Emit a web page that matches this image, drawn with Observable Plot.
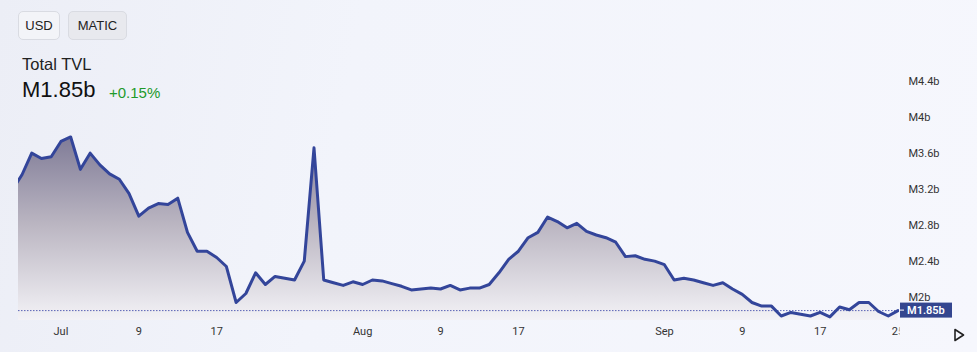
<!DOCTYPE html>
<html>
<head>
<meta charset="utf-8">
<script src="https://cdn.jsdelivr.net/npm/d3@7"></script>
<script src="https://cdn.jsdelivr.net/npm/@observablehq/plot@0.6"></script>
<style>
  html, body { margin: 0; padding: 0; }
  body { width: 977px; height: 352px; overflow: hidden; font-family: "Liberation Sans", Arial, sans-serif; }
  #wrap { position: relative; width: 977px; height: 352px;
    background: linear-gradient(100deg, #eceef6 0%, #f2f4fb 35%, #f6f7fd 100%); }
  #chart { position: absolute; left: 0; top: 0; }
  #header { position: absolute; left: 0; top: 0; pointer-events: none; }
  .btn { position: absolute; top: 11px; height: 29px; box-sizing: border-box; border: 1px solid #d9dbe2;
    border-radius: 5px; font-size: 13px; color: #222; display: flex; align-items: center; justify-content: center; }
  #usd { left: 18px; width: 42px; background: #f3f4f8; }
  #matic { left: 68px; width: 59px; background: #e8e9ee; }
  #title { position: absolute; left: 22px; top: 55px; font-size: 16.5px; color: #222; white-space: nowrap; }
  #value { position: absolute; left: 22px; top: 77px; font-size: 22px; color: #111; white-space: nowrap; }
  #change { position: absolute; left: 109px; top: 84px; font-size: 15px; color: #1e9a2a; white-space: nowrap; }
</style>
</head>
<body>
<div id="wrap">
  <div id="chart"></div>
  <div id="header">
    <div class="btn" id="usd">USD</div>
    <div class="btn" id="matic">MATIC</div>
    <div id="title">Total TVL</div>
    <div id="value">M1.85b</div>
    <div id="change">+0.15%</div>
  </div>
</div>
<script>
// Daily Total TVL in billions of MATIC, starting 2023-06-26
const startDate = "2023-06-26";
const tvl = [
  3.19, 3.36, 3.60, 3.54, 3.56,
  3.73, 3.78, 3.42, 3.60, 3.47, 3.37, 3.31, 3.15, 2.90, 2.99, 3.04, 3.03, 3.10, 2.72, 2.51, 2.51,
  2.44, 2.34, 1.94, 2.04, 2.27, 2.14, 2.23, 2.21, 2.19, 2.40, 3.66, 2.19, 2.16, 2.13, 2.17,
  2.14, 2.19, 2.18, 2.15, 2.12, 2.08, 2.09, 2.10, 2.09, 2.13, 2.08, 2.10, 2.10, 2.14, 2.27, 2.42,
  2.51, 2.66, 2.72, 2.89, 2.84, 2.77, 2.82, 2.73, 2.69, 2.66, 2.61, 2.45, 2.46, 2.42, 2.40,
  2.36, 2.19, 2.21, 2.19, 2.16, 2.13, 2.16, 2.09, 2.03, 1.94, 1.90, 1.90, 1.79, 1.83, 1.81, 1.79,
  1.83, 1.78, 1.89, 1.86, 1.94, 1.94, 1.84, 1.79, 1.85
];
const xTickDates = ["2023-07-01","2023-07-09","2023-07-17","2023-08-01","2023-08-09","2023-08-17",
                    "2023-09-01","2023-09-09","2023-09-17","2023-09-25"];
const yTicks = [2, 2.4, 2.8, 3.2, 3.6, 4, 4.4];
const lastLabel = "M1.85b";

const start = new Date(startDate + "T00:00:00Z");
const data = tvl.map((v, i) => ({date: d3.utcDay.offset(start, i), tvl: v}));
const last = tvl[tvl.length - 1];
const yFloor = 1.74, yCeil = 5.3;

const chart = Plot.plot({
  width: 977, height: 352,
  marginLeft: 18, marginRight: 78, marginTop: 0, marginBottom: 32,
  style: {background: "transparent", fontFamily: "Roboto, 'Liberation Sans', sans-serif", fontSize: "11px", overflow: "visible"},
  x: {type: "utc", domain: [new Date("2023-06-27T00:00:00Z"), new Date("2023-09-25T00:00:00Z")], range: [21.5, 897.5]},
  y: {domain: [yFloor, yCeil], range: [320, -0.3]},
  marks: [
    Plot.areaY(data, {x: "date", y1: yFloor, y2: "tvl", fill: "url(#tvlFill)", clip: true}),
    Plot.ruleY([last], {stroke: "#5a63b6", strokeWidth: 1, strokeDasharray: "1.5 1.5"}),
    Plot.lineY(data, {x: "date", y: "tvl", stroke: "#33459a", strokeWidth: 3, strokeLinejoin: "round", clip: true}),
    Plot.axisX({ticks: xTickDates.map(s => new Date(s + "T00:00:00Z")),
      tickFormat: d => d.getUTCDate() === 1 ? d3.utcFormat("%b")(d) : String(d.getUTCDate()),
      tickSize: 0, tickPadding: 7, fill: "#333", label: null}),
    Plot.axisY({anchor: "right", ticks: yTicks, tickFormat: v => `M${v}b`, tickSize: 0, tickPadding: 9,
      textAnchor: "start", fill: "#333", label: null})
  ]
});
document.getElementById("chart").appendChild(chart);

const svg = d3.select(chart);
// gradient for area
const defs = svg.insert("defs", ":first-child");
const g = defs.append("linearGradient").attr("id", "tvlFill")
  .attr("gradientUnits", "userSpaceOnUse").attr("x1", 0).attr("x2", 0).attr("y1", 130).attr("y2", 320);
g.append("stop").attr("offset", "0").attr("stop-color", "#7b7794");
g.append("stop").attr("offset", "0.5").attr("stop-color", "#bbb6c2");
g.append("stop").attr("offset", "1").attr("stop-color", "#f3f2f6");
// clip x tick labels to pane
const clip = defs.append("clipPath").attr("id", "paneX");
clip.append("rect").attr("x", 0).attr("y", 0).attr("width", 977 - 78).attr("height", 352);
svg.selectAll("g[aria-label='x-axis tick label']").attr("clip-path", "url(#paneX)");

// last value label on price scale
const yScale = chart.scale("y");
const ly = yScale.apply(last);
const fx = 977 - 78;
const lab = svg.append("g").attr("text-anchor", "start");
lab.append("rect").attr("x", fx + 1).attr("y", ly - 7.5).attr("width", 52).attr("height", 15).attr("fill", "#34468f");
lab.append("line").attr("x1", fx + 1).attr("x2", fx + 5).attr("y1", ly).attr("y2", ly).attr("stroke", "#fff").attr("stroke-width", 1);
lab.append("text").attr("x", fx + 8).attr("y", ly).attr("dy", "0.35em").attr("fill", "#fff")
  .attr("text-anchor", "start")
  .attr("font-size", 11).attr("font-weight", 600).attr("font-family", "Roboto, sans-serif").text(lastLabel);
// scroll-to-realtime arrow
svg.append("path").attr("d", `M${fx + 56},329.5 L${fx + 64.5},335 L${fx + 56},340.5 Z`)
  .attr("fill", "none").attr("stroke", "#222").attr("stroke-width", 1.6).attr("stroke-linejoin", "round");
</script>
</body>
</html>
